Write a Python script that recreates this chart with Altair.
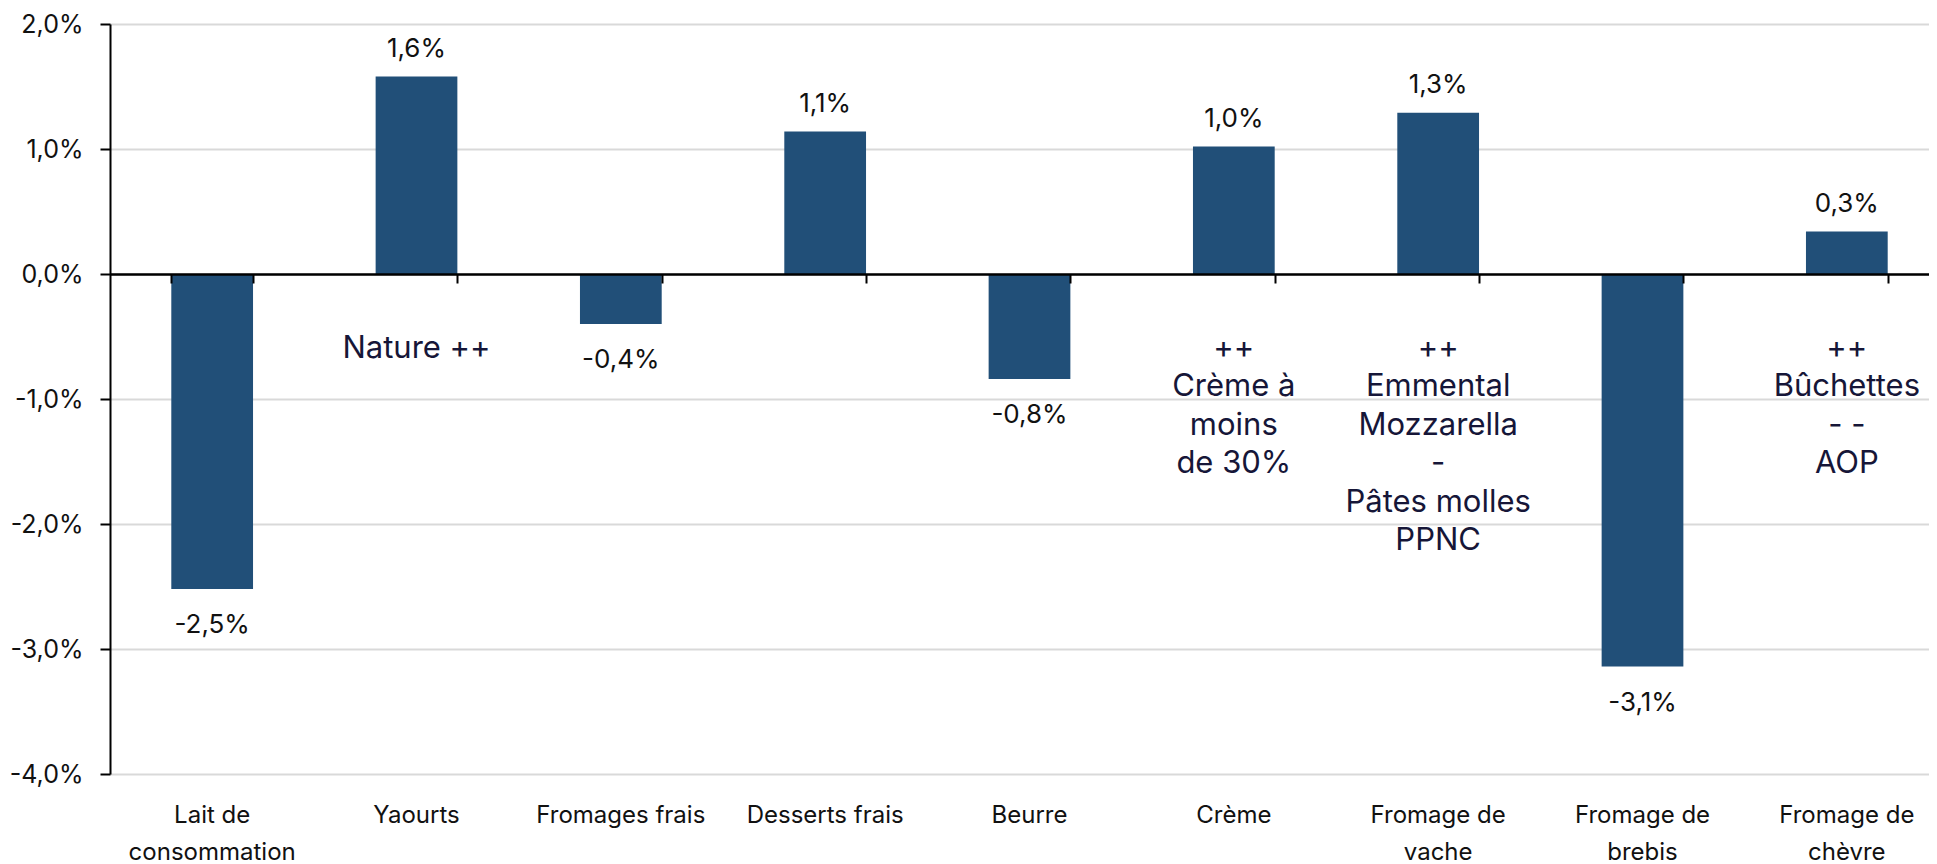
import altair as alt
import pandas as pd

# ---- data ----
categories = [
    "Lait de\nconsommation", "Yaourts", "Fromages frais", "Desserts frais",
    "Beurre", "Crème", "Fromage de\nvache", "Fromage de\nbrebis", "Fromage de\nchèvre",
]
values = [-2.52, 1.58, -0.40, 1.14, -0.84, 1.02, 1.29, -3.14, 0.34]
notes = [
    [], ["Nature ++"], [], [], [],
    ["++", "Crème à", "moins", "de 30%"],
    ["++", "Emmental", "Mozzarella", "-", "Pâtes molles", "PPNC"],
    [],
    ["++", "Bûchettes", "- -", "AOP"],
]
y_ticks = [-4, -3, -2, -1, 0, 1, 2]
y_domain = [-4, 2]

df = pd.DataFrame({
    "cat": categories,
    "val": values,
    "note": ["\n".join(n) for n in notes],
})

PAD_L, PAD_T, PAD_B = 102, 16, 90
W, H = 1819, 750          # visible plot area
X_RANGE = 1839            # band range (runs past the right edge, as in the reference)
zero_offset = -H * (0 - y_domain[0]) / (y_domain[1] - y_domain[0])

NUM_FONT = "Inter"
NOTE_FONT = "Inter"
fmt = "(datum.{f} < 0 ? '-' : '') + replace(format(abs(datum.{f}), '.1f'), '.', ',') + '%'"

x_main = alt.X(
    "cat:N", sort=categories,
    scale=alt.Scale(paddingInner=0.6, paddingOuter=0.3, range=[0, X_RANGE]),
    axis=alt.Axis(
        title=None, orient="bottom", domain=False, ticks=False, tickSize=0,
        labelAngle=0, labelFont=NUM_FONT, labelFontSize=24, labelColor="#111111",
        labelPadding=29, labelLineHeight=37, labelBaseline="top",
        labelExpr="split(datum.label, '\\n')", grid=False,
    ),
)
x_plain = alt.X("cat:N", sort=categories, axis=None)
y_enc = alt.Y(
    "val:Q",
    scale=alt.Scale(domain=y_domain, nice=False, zero=False),
    axis=alt.Axis(
        title=None, values=y_ticks, labelExpr=fmt.format(f="value"),
        labelFont=NUM_FONT, labelFontSize=25, labelColor="#111111",
        labelPadding=17, tickSize=10, tickColor="black", tickWidth=2,
        domainColor="black", domainWidth=2,
        grid=True, gridColor="#d9d9d9", gridWidth=2,
    ),
)

base = alt.Chart(df)

bars = base.mark_bar(color="#214F78").encode(x=x_main, y=y_enc)

lab_pos = base.transform_filter("datum.val >= 0").transform_calculate(
    lab=fmt.format(f="val")
).mark_text(font=NUM_FONT, fontSize=26, color="#111111", baseline="middle", dy=-28).encode(
    x=x_plain, y="val:Q", text="lab:N"
)
lab_neg = base.transform_filter("datum.val < 0").transform_calculate(
    lab=fmt.format(f="val")
).mark_text(font=NUM_FONT, fontSize=26, color="#111111", baseline="middle", dy=36).encode(
    x=x_plain, y="val:Q", text="lab:N"
)

note_txt = base.transform_filter("datum.note != ''").mark_text(
    font=NOTE_FONT, fontSize=31, color="#161638", baseline="alphabetic",
    lineBreak="\n", lineHeight=38.5, align="center",
).encode(
    x=x_plain, y=alt.datum(-0.67), text="note:N"
)

zero_axis = base.mark_point(opacity=0).encode(
    x=alt.X(
        "cat:N", sort=categories,
        axis=alt.Axis(
            title=None, orient="bottom", offset=zero_offset, labels=False,
            ticks=True, tickBand="extent", tickSize=9, tickColor="black", tickWidth=2,
            domain=True, domainColor="black", domainWidth=2.5, grid=False, zindex=1,
        ),
    ),
    y="val:Q",
)

chart = alt.layer(bars, lab_pos, lab_neg, note_txt, zero_axis).resolve_axis(
    x="independent"
).properties(
    width=W, height=H,
    autosize=alt.AutoSizeParams(type="none"),
    padding={"left": PAD_L, "top": PAD_T, "right": 0, "bottom": PAD_B},
).configure_view(stroke=None)

chart.save("out.html", embed_options={"renderer": "svg", "actions": False})
